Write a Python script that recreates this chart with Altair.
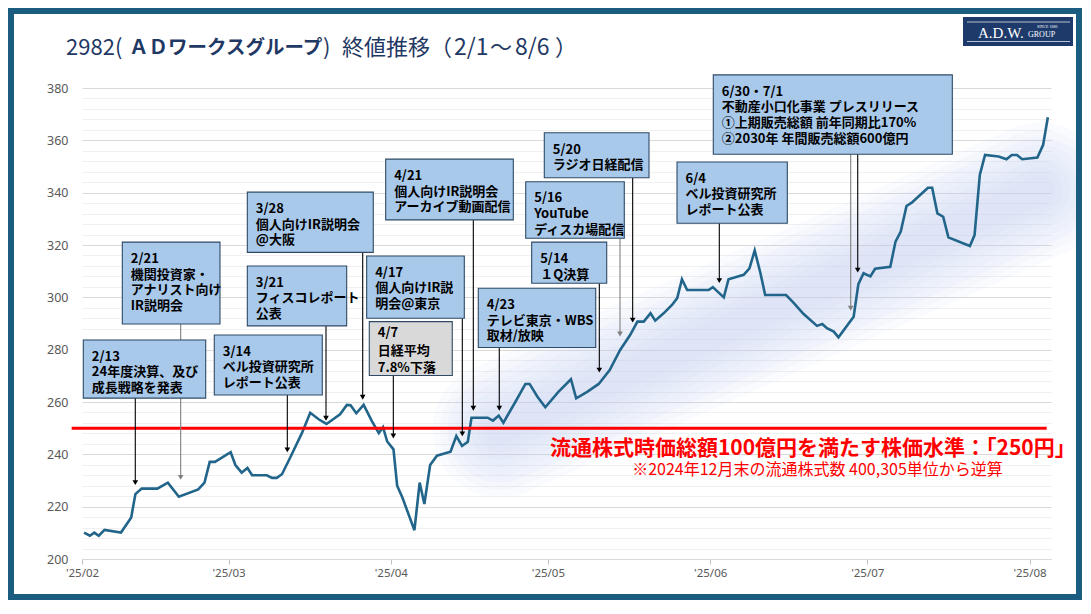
import altair as alt
import pandas as pd

# ---------------- data ----------------
# closing price series: offset in days from 2025-02-01, close (yen)
days = [0.4, 1.5, 2.35, 3.2, 4.3, 7.45, 9.4, 10.2, 11.4, 14.4, 16.4, 18.5, 22.2, 23.4, 24.4, 25.4,
        28.4, 29.3, 30.5, 31.6, 32.5, 35.3, 36.3, 37.2, 38.2, 39.8, 42.0, 43.6, 45.2, 46.7, 49.3, 50.6,
        51.3, 52.4, 53.8, 55.4, 56.7, 57.5, 58.3, 59.5, 60.2, 61.2, 63.5, 64.5, 65.4, 66.5, 67.8, 70.4,
        71.5, 72.6, 73.7, 74.4, 77.5, 78.5, 79.6, 80.5, 82.8, 84.7, 85.5, 87.0, 88.5, 91.0, 93.4, 94.4,
        96.5, 98.7, 100.8, 102.8, 104.7, 106.1, 107.3, 108.6, 109.5, 111.1, 112.7, 113.7, 114.6, 115.6,
        119.7, 120.5, 122.6, 123.5, 124.8, 126.4, 127.5, 128.5, 129.6, 130.5, 134.5, 135.9, 137.8, 140.4,
        141.4, 142.3, 143.6, 144.5, 147.4, 148.3, 149.3, 150.6, 151.5, 154.4, 155.4, 156.4, 157.5, 158.5,
        160.1, 161.6, 162.4, 163.4, 164.5, 165.5, 169.6, 170.5, 171.5, 172.5, 175.1, 176.6, 177.6, 178.6,
        179.6, 182.5, 183.6, 184.5]
close = [210.1, 208.9, 210.1, 208.9, 211.1, 210.1, 215.9, 224.8, 226.9, 226.9, 229.2, 223.8, 226.6, 229.2,
         237.1, 237.1, 240.8, 235.9, 233.0, 234.8, 232.0, 232.0, 231.0, 231.0, 232.4, 238.9, 248.1, 255.9,
         253.4, 251.6, 255.3, 258.9, 258.8, 255.7, 258.9, 252.6, 248.1, 250.4, 244.9, 241.9, 228.0, 223.5,
         211.0, 229.2, 221.0, 235.9, 239.5, 241.0, 247.0, 243.2, 244.8, 254.0, 254.0, 252.9, 254.8, 252.1,
         260.1, 266.9, 266.9, 262.0, 258.0, 263.9, 268.7, 261.4, 263.9, 266.9, 272.2, 279.9, 285.6, 290.7,
         290.7, 293.9, 291.1, 293.9, 297.1, 299.7, 306.9, 302.8, 302.8, 303.9, 300.0, 306.9, 307.7, 308.6,
         311.1, 317.9, 309.2, 300.9, 300.9, 298.0, 293.7, 289.1, 289.8, 288.2, 286.9, 284.7, 292.6, 305.0,
         309.2, 308.0, 310.9, 311.7, 321.3, 325.1, 334.9, 336.2, 339.1, 341.9, 341.9, 332.1, 330.8, 322.9,
         319.6, 323.8, 346.8, 354.4, 353.8, 352.8, 354.4, 354.4, 352.8, 353.4, 358.3, 368.8]

# annotation call-outs (left/right in day offsets, top/bottom in yen)
ann_text = [
    "2/13\n24年度決算、及び\n成長戦略を発表",
    "2/21\n機関投資家・\nアナリスト向け\nIR説明会",
    "3/14\nベル投資研究所\nレポート公表",
    "3/21\nフィスコレポート\n公表",
    "3/28\n個人向けIR説明会\n@大阪",
    "4/7\n日経平均\n7.8%下落",
    "4/17\n個人向けIR説\n明会@東京",
    "4/21\n個人向けIR説明会\nアーカイブ動画配信",
    "4/23\nテレビ東京・WBS\n取材/放映",
    "5/14\n１Q決算",
    "5/16\nYouTube\nディスカ場配信",
    "5/20\nラジオ日経配信",
    "6/4\nベル投資研究所\nレポート公表",
    "6/30・7/1\n不動産小口化事業 プレスリリース\n①上期販売総額 前年同期比170%\n②2030年 年間販売総額600億円",
]
ann_left = [0.25, 7.70, 25.27, 31.58, 31.58, 54.88, 54.38, 58.01, 75.70, 85.90, 84.76, 88.31, 113.66, 120.59]
ann_right = [23.63, 26.36, 45.90, 50.56, 55.64, 70.73, 73.03, 82.39, 98.13, 100.23, 103.59, 108.31, 134.73, 166.25]
ann_top = [283.7, 321.1, 285.6, 312.0, 340.2, 290.7, 315.8, 352.8, 303.5, 321.1, 344.2, 362.9, 351.7, 385.0]
ann_bottom = [261.5, 289.8, 262.7, 289.1, 317.2, 270.1, 292.0, 329.6, 280.8, 305.4, 322.6, 345.7, 328.3, 354.7]
ann_fill = ["#a9c9ea"] * 5 + ["#d9d9d9"] + ["#a9c9ea"] * 8

# arrows from call-outs to the line
arrow_day = [10.18, 18.85, 39.22, 46.61, 53.62, 59.47, 72.65, 74.75, 79.71, 98.82, 102.77, 105.19, 121.74, 146.84, 148.18]
arrow_top = [261.5, 289.8, 262.7, 289.1, 317.2, 270.1, 292.0, 329.6, 280.8, 305.4, 322.6, 345.7, 328.3, 354.7, 354.7]
arrow_tip = [229.2, 231.2, 241.7, 253.8, 261.8, 247.0, 247.8, 257.6, 257.6, 272.2, 286.0, 291.3, 306.4, 295.8, 310.4]
arrow_color = ["#000000", "#808080", "#000000", "#000000", "#000000", "#000000", "#000000", "#000000",
               "#000000", "#000000", "#808080", "#000000", "#000000", "#808080", "#000000"]

# threshold line (250 yen) and its captions
threshold = 250
thr_from, thr_to = -1.97, 184.28
thr_caption = "流通株式時価総額100億円を満たす株価水準：「250円」"
thr_note = "※2024年12月末の流通株式数 400,305単位から逆算"

# soft trend band (two end points: day, yen)
band_day = [79.85, 183.0]
band_val = [249.3, 341.05]

# title pieces
title_parts = ["2982", "(", "ＡＤワークスグループ", ")", "終値推移", "（", "2/1", "～", "8/6", "）"]

# ---------------- helpers ----------------
BASE = pd.Timestamp("2025-02-01")


def ts(d):
    return (BASE + pd.to_timedelta(d, unit="D")).strftime("%Y-%m-%dT%H:%M:%S")


price = pd.DataFrame({"date": [ts(d) for d in days], "close": close})
boxes = pd.DataFrame({
    "x0": [ts(d) for d in ann_left], "x1": [ts(d) for d in ann_right],
    "top": ann_top, "bottom": ann_bottom, "fill": ann_fill, "label": ann_text,
})
arrows = pd.DataFrame({"x": [ts(d) for d in arrow_day], "y0": arrow_top, "y1": arrow_tip, "col": arrow_color})
thr = pd.DataFrame({"x0": [ts(thr_from)], "x1": [ts(thr_to)], "y": [threshold]})
band = pd.DataFrame({"x": [ts(d) for d in band_day], "y": band_val})
caps = pd.DataFrame({"x": [ts(139.6), ts(140.5)], "y": [242.2, 234.0], "t": [thr_caption, thr_note]})
one = pd.DataFrame({"a": [0]})

xscale = alt.Scale(domain=[alt.DateTime(year=2025, month=2, date=1),
                           alt.DateTime(year=2025, month=8, date=5, hours=2, minutes=24)], nice=False)
yscale = alt.Scale(domain=[200, 380], nice=False, zero=False)

xaxis = alt.Axis(format="'%y/%m", tickCount="month", grid=False, labelColor="#595959",
                 labelFontSize=11.5, labelFont="Noto Sans", tickColor="#bfbfbf", tickSize=5,
                 domainColor="#d9d9d9", labelPadding=3, labelFlush=False, title=None)
yaxis = alt.Axis(values=list(range(200, 381, 4)),
                 labelExpr="datum.value % 20 === 0 ? datum.label : ''",
                 gridColor={"condition": {"test": "datum.value % 20 === 0", "value": "#d9d9d9"},
                            "value": "#f0f0f0"},
                 domain=False, ticks=False, labelColor="#595959", labelFontSize=12.5,
                 labelFont="Noto Sans", labelPadding=14, labelOverlap=False, title=None)

X = lambda f: alt.X(f, type="temporal", scale=xscale, axis=xaxis)
Y = lambda f: alt.Y(f, type="quantitative", scale=yscale, axis=yaxis)

layers = []
# soft band
for w in [135, 120, 105, 90, 75, 60, 45, 30]:
    layers.append(alt.Chart(band).mark_line(color="#c2d6f6", strokeWidth=w, strokeCap="round",
                                             opacity=0.085).encode(x=X("x"), y=Y("y")))
# price line
layers.append(alt.Chart(price).mark_line(color="#22658a", strokeWidth=2.6).encode(x=X("date"), y=Y("close")))
# threshold
layers.append(alt.Chart(thr).mark_rule(color="#ff0000", strokeWidth=3).encode(x=X("x0"), x2="x1", y=Y("y")))
# arrows
layers.append(alt.Chart(arrows).mark_rule(strokeWidth=1.1).encode(
    x=X("x"), y=Y("y0"), y2="y1", color=alt.Color("col:N", scale=None)))
layers.append(alt.Chart(arrows).mark_point(shape="triangle-down", filled=True, size=32, opacity=1).encode(
    x=X("x"), y=Y("y1"), color=alt.Color("col:N", scale=None)))
# boxes
layers.append(alt.Chart(boxes).mark_rect(stroke="#2e4a66", strokeWidth=1.1).encode(
    x=X("x0"), x2="x1", y=Y("top"), y2="bottom", fill=alt.Fill("fill:N", scale=None)))
box_text = dict(align="left", baseline="top", dx=8.5, lineBreak="\n", fontSize=13, fontWeight="bold",
                font="Noto Sans CJK JP", color="#000000")
layers.append(alt.Chart(boxes.drop(index=5)).mark_text(dy=10.8, lineHeight=15.6, **box_text).encode(
    x=X("x0"), y=Y("top"), text="label:N"))
layers.append(alt.Chart(boxes.loc[[5]]).mark_text(dy=5.5, lineHeight=17.5, **box_text).encode(
    x=X("x0"), y=Y("top"), text="label:N"))
# threshold captions
layers.append(alt.Chart(caps.iloc[[0]]).mark_text(align="center", baseline="middle", fontSize=21,
                                                  fontWeight="bold", font="Noto Sans CJK JP",
                                                  color="#ff0000").encode(x=X("x"), y=Y("y"), text="t:N"))
layers.append(alt.Chart(caps.iloc[[1]]).mark_text(align="center", baseline="middle", fontSize=16,
                                                  font="Noto Sans CJK JP",
                                                  color="#ff0000").encode(x=X("x"), y=Y("y"), text="t:N"))
# title (pieces placed along the header)
TITLE_C = "#1f3864"
title_x = [-16, 33, 47, 241, 260, 348, 372, 408, 433, 473]
title_size = [22, 22, 19.5, 22, 22, 22, 23, 22, 23, 22]
for txt, xx, fs in zip(title_parts, title_x, title_size):
    layers.append(alt.Chart(one).mark_text(text=txt, align="left", baseline="middle", fontSize=fs,
                                           fontWeight="bold" if txt == "ＡＤワークスグループ" else "normal",
                                           font="Noto Sans CJK JP", color=TITLE_C).encode(
        x=alt.value(xx), y=alt.value(-40)))
# logo
layers.append(alt.Chart(one).mark_rect(color="#1d3a6b").encode(
    x=alt.value(881), x2=alt.value(991), y=alt.value(-71), y2=alt.value(-42)))
for yy in [-66, -46.5]:
    layers.append(alt.Chart(one).mark_rule(color="#ffffff", strokeWidth=0.7).encode(
        x=alt.value(885), x2=alt.value(988), y=alt.value(yy)))
layers.append(alt.Chart(one).mark_text(text="A.D.W.", align="left", baseline="middle", fontSize=15,
                                       font="Liberation Serif", color="#ffffff").encode(
    x=alt.value(896), y=alt.value(-55.5)))
layers.append(alt.Chart(one).mark_text(text="GROUP", align="left", baseline="middle", fontSize=8,
                                       font="Liberation Serif", color="#ffffff").encode(
    x=alt.value(946), y=alt.value(-53.5)))
layers.append(alt.Chart(one).mark_text(text="SINCE 1886", align="left", baseline="middle", fontSize=4,
                                       font="Liberation Serif", color="#ffffff").encode(
    x=alt.value(955), y=alt.value(-61)))
# outer frame
layers.append(alt.Chart(one).mark_rect(filled=False, stroke="#1b5d80", strokeWidth=12).encode(
    x=alt.value(-74), x2=alt.value(1000), y=alt.value(-80), y2=alt.value(512)))

chart = alt.layer(*layers).properties(
    width=969, height=471,
    padding={"left": 74, "top": 80, "right": 31, "bottom": 41},
    autosize=alt.AutoSizeParams(type="none"),
    background="#ffffff",
).configure_view(stroke=None)

chart.save("out.html", embed_options={"renderer": "svg", "actions": False})
